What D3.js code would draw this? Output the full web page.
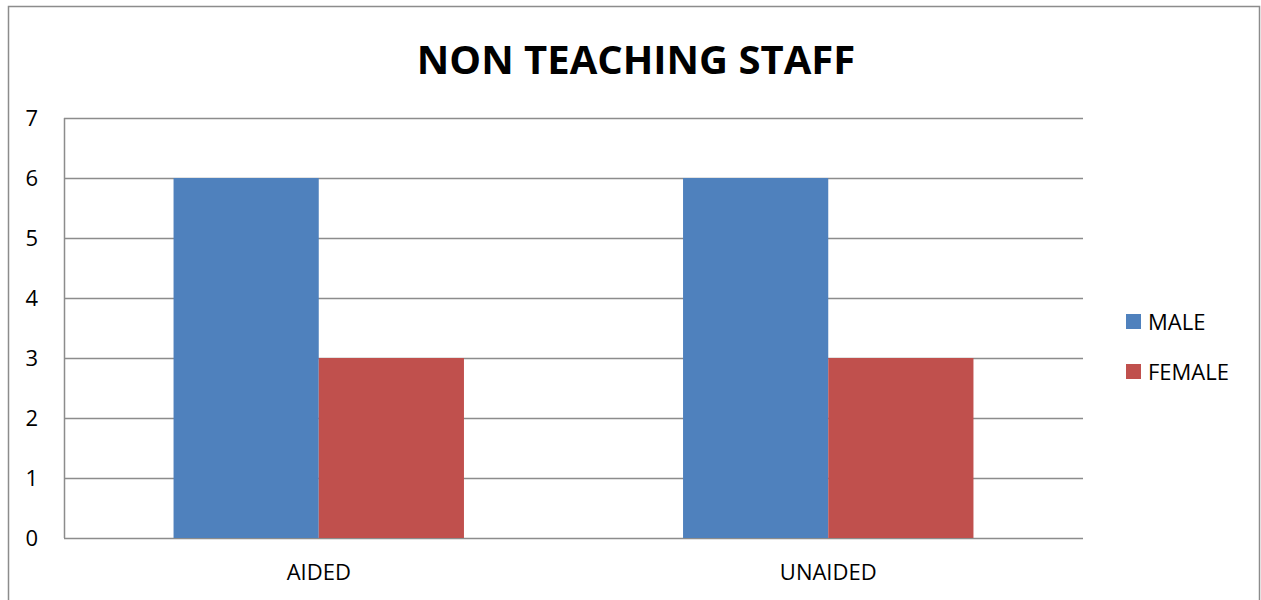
<!DOCTYPE html>
<html>
<head>
<meta charset="utf-8">
<script src="https://cdn.jsdelivr.net/npm/d3@7"></script>
<style>
  body { margin: 0; background: #fff; }
  text { font-family: "Open Sans", "Liberation Sans", sans-serif; fill: #000; }
</style>
</head>
<body>
<div id="chart"></div>
<script>
// data
var categories = ["AIDED", "UNAIDED"];
var series = ["MALE", "FEMALE"];
var maleValues = [6, 6];
var femaleValues = [3, 3];
var yTicks = [0, 1, 2, 3, 4, 5, 6, 7];
var colors = ["#4F81BD", "#C0504D"];

var W = 1261, H = 600;
var margin = {top: 118, right: 178, bottom: 62, left: 64},
    width = W - margin.left - margin.right,
    height = H - margin.top - margin.bottom;

var svg = d3.select("#chart").append("svg")
    .attr("width", W)
    .attr("height", H);

// outer frame
svg.append("rect")
    .attr("x", 8.5).attr("y", 6.5)
    .attr("width", 1251).attr("height", 600)
    .attr("fill", "none")
    .attr("stroke", "#8c8c8c")
    .attr("stroke-width", 1.5);

svg.append("text")
    .attr("x", 636).attr("y", 74)
    .attr("text-anchor", "middle")
    .style("font-size", "40px")
    .style("font-weight", "bold")
    .text("NON TEACHING STAFF");

var g = svg.append("g")
    .attr("transform", "translate(" + margin.left + "," + margin.top + ")");

var x0 = d3.scaleBand().domain(categories).range([0, width]).paddingInner(0.43).paddingOuter(0.215);
var x1 = d3.scaleBand().domain(series).range([0, x0.bandwidth()]);
var y = d3.scaleLinear().domain([0, 7]).range([height, 0]);

// gridlines
g.selectAll(".grid")
    .data(yTicks)
    .enter().append("line")
      .attr("x1", 0).attr("x2", width)
      .attr("y1", function(d) { return y(d) + 0.5; })
      .attr("y2", function(d) { return y(d) + 0.5; })
      .attr("stroke", "#8c8c8c")
      .attr("stroke-width", 1.5);

g.append("line")
    .attr("x1", 0.5).attr("x2", 0.5)
    .attr("y1", 0).attr("y2", height)
    .attr("stroke", "#8c8c8c")
    .attr("stroke-width", 1.5);

var rows = categories.map(function(c, i) {
  return {cat: c, vals: [maleValues[i], femaleValues[i]]};
});

var groups = g.selectAll(".grp")
    .data(rows)
    .enter().append("g")
      .attr("transform", function(d) { return "translate(" + x0(d.cat) + ",0)"; });

groups.selectAll("rect")
    .data(function(d) { return d.vals.map(function(v, j) { return {s: series[j], v: v, j: j}; }); })
    .enter().append("rect")
      .attr("x", function(d) { return x1(d.s); })
      .attr("y", function(d) { return y(d.v); })
      .attr("width", x1.bandwidth())
      .attr("height", function(d) { return height - y(d.v); })
      .attr("fill", function(d) { return colors[d.j]; });

// y axis labels
var yAxis = d3.axisLeft(y).tickValues(yTicks).tickFormat(d3.format("d")).tickSize(0).tickPadding(26);
g.append("g").call(yAxis)
    .call(function(a) { a.select(".domain").remove(); })
    .selectAll("text")
      .style("font-size", "22px")
      .style("font-family", "\"Open Sans\", \"Liberation Sans\", sans-serif")
      .attr("fill", "#000");

var xAxis = d3.axisBottom(x0).tickSize(0).tickPadding(26);
g.append("g")
    .attr("transform", "translate(0," + height + ")")
    .call(xAxis)
    .call(function(a) { a.select(".domain").remove(); })
    .selectAll("text")
      .style("font-size", "22px")
      .style("font-family", "\"Open Sans\", \"Liberation Sans\", sans-serif")
      .attr("fill", "#000");

// legend
var legend = svg.selectAll(".legend")
    .data(series)
    .enter().append("g")
      .attr("transform", function(d, i) { return "translate(1126," + (314 + i * 50) + ")"; });

legend.append("rect")
    .attr("width", 15).attr("height", 15)
    .attr("fill", function(d, i) { return colors[i]; });

legend.append("text")
    .attr("x", 22).attr("y", 16)
    .style("font-size", "22px")
    .text(function(d) { return d; });
</script>
</body>
</html>
